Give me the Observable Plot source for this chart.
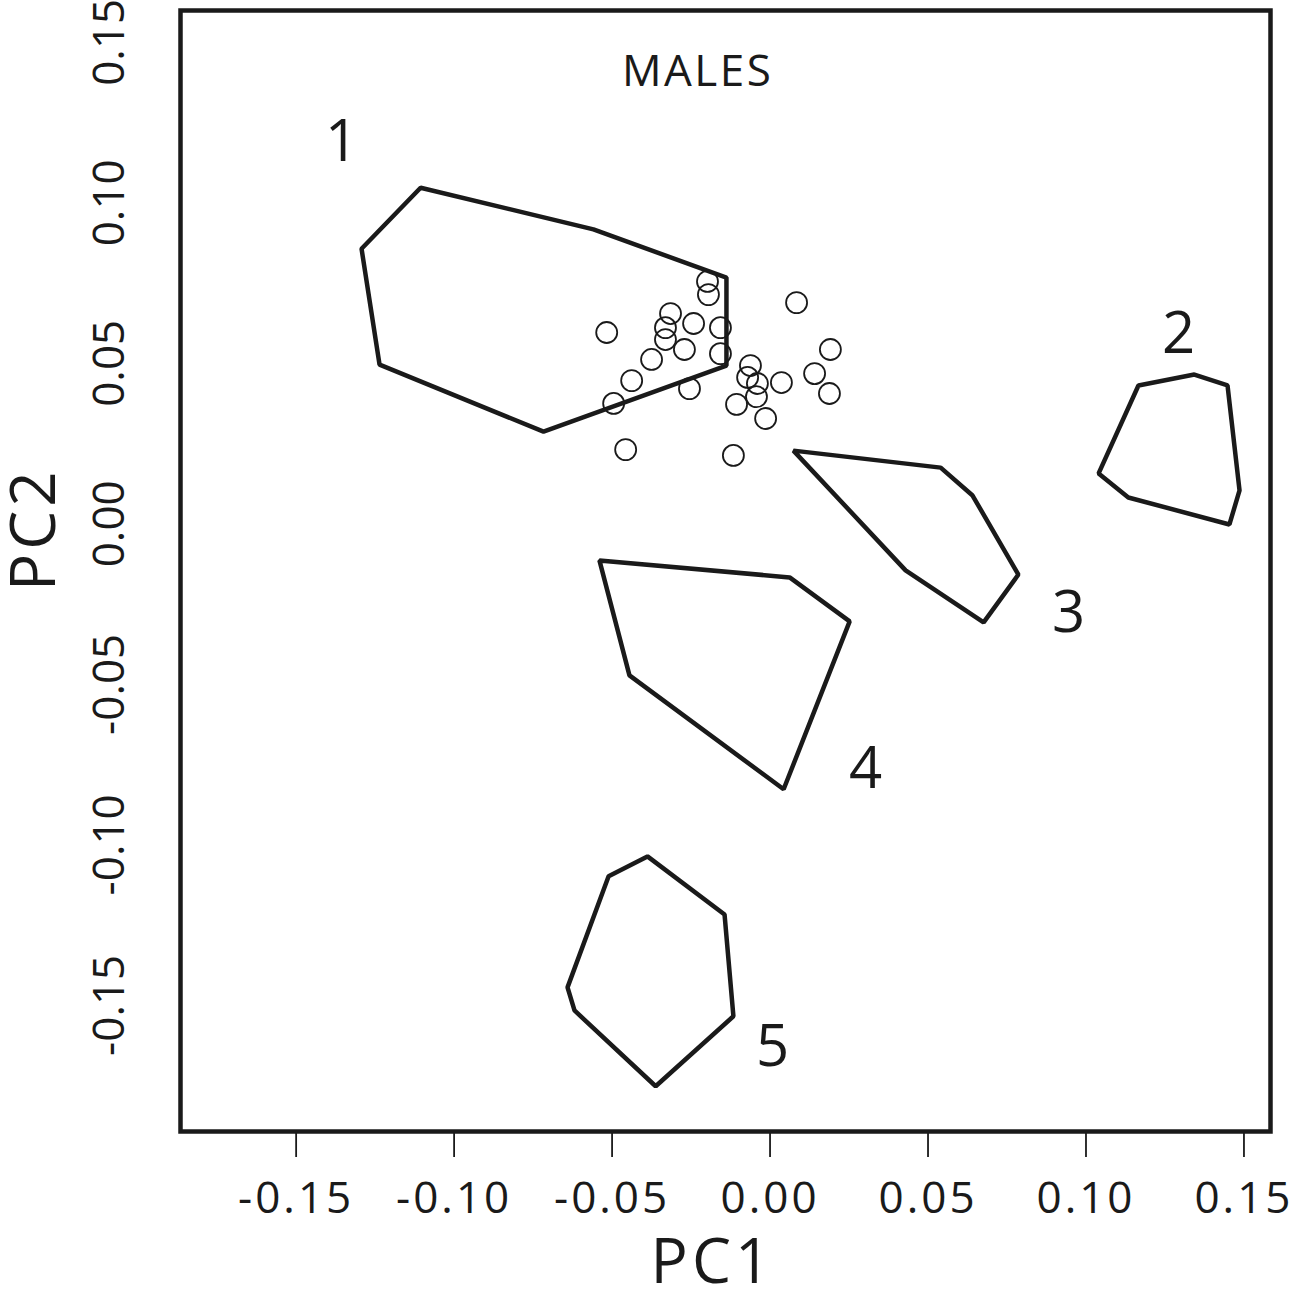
<!DOCTYPE html>
<html><head><meta charset="utf-8">
<script src="https://cdn.jsdelivr.net/npm/d3@7"></script>
<script src="https://cdn.jsdelivr.net/npm/@observablehq/plot@0.6"></script>
<style>html,body{margin:0;padding:0;background:#fff} svg{display:block}</style>
</head><body><div id="chart"></div>
<script>
// Axis ticks
const xTicks = [-0.15, -0.10, -0.05, 0, 0.05, 0.10, 0.15];
const yTicks = [-0.15, -0.10, -0.05, 0, 0.05, 0.10, 0.15];

// Male specimens (open circles)
const pointsPC1 = [-0.0517, -0.0315, -0.0331, -0.0331, -0.0242, -0.0271, -0.0157, -0.0157, -0.0198, -0.0195,
  -0.0375, -0.0438, -0.0495, -0.0255, -0.0457, 0.0084, 0.0191, 0.0141, 0.0188, 0.0036,
  -0.0062, -0.0071, -0.0040, -0.0043, -0.0106, -0.0014, -0.0116];
const pointsPC2 = [0.0596, 0.0655, 0.0611, 0.0574, 0.0624, 0.0543, 0.0611, 0.0530, 0.0755, 0.0714,
  0.0512, 0.0446, 0.0375, 0.0421, 0.0231, 0.0689, 0.0543, 0.0468, 0.0406, 0.0440,
  0.0493, 0.0456, 0.0437, 0.0396, 0.0372, 0.0328, 0.0213];

// Convex hulls of groups 1-5
const hullGroup = [1,1,1,1,1,1,1, 2,2,2,2,2,2,2, 3,3,3,3,3,3, 4,4,4,4,4, 5,5,5,5,5,5,5];
const hullPC1 = [-0.1106, -0.0559, -0.0138, -0.0138, -0.0717, -0.1236, -0.1293,
  0.1166, 0.1343, 0.1448, 0.1486, 0.1454, 0.1134, 0.1040,
  0.0074, 0.0540, 0.0641, 0.0786, 0.0676, 0.0429,
  -0.0540, 0.0062, 0.0252, 0.0043, -0.0445,
  -0.0511, -0.0388, -0.0144, -0.0116, -0.0362, -0.0619, -0.0641];
const hullPC2 = [0.1047, 0.0917, 0.0767, 0.0493, 0.0287, 0.0496, 0.0857,
  0.0431, 0.0465, 0.0431, 0.0104, -0.0002, 0.0082, 0.0157,
  0.0228, 0.0175, 0.0088, -0.0158, -0.0307, -0.0145,
  -0.0114, -0.0167, -0.0304, -0.0827, -0.0472,
  -0.1098, -0.1036, -0.1217, -0.1534, -0.1752, -0.1516, -0.1444];

// Group labels
const groupLabels = ["1", "2", "3", "4", "5"];
const groupLabelPC1 = [-0.1356, 0.1293, 0.0945, 0.0302, 0.0008];
const groupLabelPC2 = [0.1187, 0.0590, -0.0279, -0.0765, -0.1631];

const panelTitle = ["MALES"];
const panelTitlePC1 = [-0.0229];
const panelTitlePC2 = [0.1409];
const xLabel = "PC1";
const yLabel = "PC2";

const points = pointsPC1.map((x, i) => ({x, y: pointsPC2[i]}));
const hulls = hullGroup.map((g, i) => ({g, x: hullPC1[i], y: hullPC2[i]}));
const labels = groupLabels.map((t, i) => ({t, x: groupLabelPC1[i], y: groupLabelPC2[i]}));
const titles = panelTitle.map((t, i) => ({t, x: panelTitlePC1[i], y: panelTitlePC2[i]}));
const fmt = d => d.toFixed(2);
const ink = "#1a1a1a";

const chart = Plot.plot({
  width: 1292, height: 1294,
  marginLeft: 180, marginRight: 22, marginTop: 10, marginBottom: 163,
  style: `font-family: 'Open Sans', sans-serif; background: #fff; color: ${ink}; overflow: visible;`,
  x: {domain: [-0.1866, 0.1584]},
  y: {domain: [-0.1893, 0.1599]},
  marks: [
    Plot.axisX({ticks: xTicks, tickFormat: fmt, tickSize: 26, tickPadding: 24, fontSize: 44, label: null, strokeWidth: 1.8}),
    Plot.axisY({ticks: yTicks, tickFormat: fmt, tickSize: 26, tickPadding: 45, fontSize: 44, label: null, rotate: -90, textAnchor: "middle", strokeWidth: 1.8}),
    Plot.dot(points, {x: "x", y: "y", r: 10.5, stroke: ink, strokeWidth: 1.8, fill: "none"}),
    Plot.line(hulls, {x: "x", y: "y", z: "g", curve: "linear-closed", stroke: ink, strokeWidth: 4.5, strokeLinejoin: "miter"}),
    Plot.text(labels, {x: "x", y: "y", text: "t", fontSize: 58, lineAnchor: "middle", fill: ink}),
    Plot.text(titles, {x: "x", y: "y", text: "t", fontSize: 44, lineAnchor: "middle", fill: ink}),
    Plot.frame({stroke: ink, strokeWidth: 4.5}),
    Plot.text([xLabel], {frameAnchor: "bottom", dy: 132, dx: -13, fontSize: 62, lineAnchor: "middle", fill: ink}),
    Plot.text([yLabel], {frameAnchor: "left", dx: -145, dy: 20, rotate: -90, fontSize: 62, lineAnchor: "middle", fill: ink})
  ]
});
// typographic tracking to match the reference's wide-set lettering
const sel = d3.select(chart);
sel.selectAll("g[aria-label='x-axis tick label'] text").style("letter-spacing", "3px");
sel.selectAll("g[aria-label='text'] text").each(function() {
  const t = this.textContent;
  if (t === "MALES") this.style.letterSpacing = "2.5px";
  else if (t === "PC1" || t === "PC2") this.style.letterSpacing = "4px";
});
document.getElementById("chart").appendChild(chart);
</script>
</body></html>
